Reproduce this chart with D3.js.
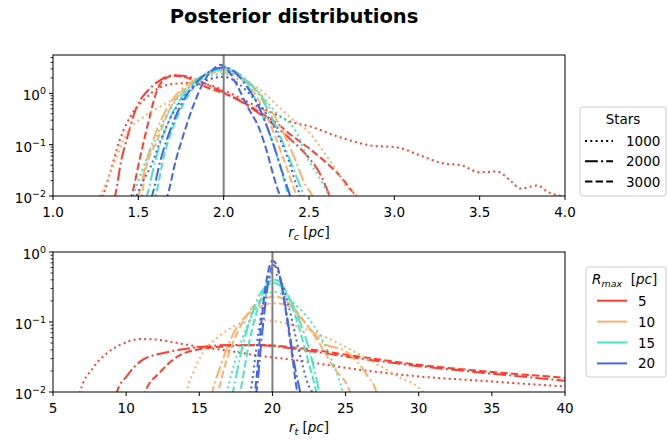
<!DOCTYPE html>
<html lang="en">
<head>
<meta charset="UTF-8">
<title>Posterior distributions</title>
<script src="https://d3js.org/d3.v7.min.js"></script>
<style>
  body { margin: 0; padding: 0; background: #fff; }
  svg { display: block; font-family: "DejaVu Sans", sans-serif; }
  .tick-label { font-size: 13.5px; fill: #000; }
</style>
</head>
<body>
<svg id="chart" width="667" height="442"></svg>
<script>
// legend categories
const rmaxValues = ["5", "10", "15", "20"];
const rmaxColors = ["#ff3d2e", "#ffb066", "#44e6c4", "#4464f0"];
const starCounts = ["1000", "2000", "3000"];
const starDashes = ["2,3.3", "12.8,3.2,2,3.2", "7.4,3.2"];

// tick labels
const rcTicks = [1.0, 1.5, 2.0, 2.5, 3.0, 3.5, 4.0];
const rtTicks = [5, 10, 15, 20, 25, 30, 35, 40];
const logTicks = [0.01, 0.1, 1];

// r_c posteriors, [r_c, density]
const rc_5_1000 = [[1.27,0.008],[1.29,0.01],[1.334,0.028],[1.39,0.12],[1.45,0.34],[1.53,0.73],[1.63,1.32],[1.72,1.55],[1.82,1.6],[1.92,1.45],[2.0,1.15],[2.1,0.8],[2.2,0.55],[2.3,0.4],[2.37,0.30],[2.52,0.22],[2.68,0.14],[2.86,0.097],[3.02,0.088],[3.15,0.062],[3.29,0.043],[3.39,0.040],[3.50,0.029],[3.60,0.030],[3.68,0.020],[3.74,0.014],[3.84,0.016],[3.90,0.012],[3.95,0.0105],[4.0,0.0098]];
const rc_5_2000 = [[1.35,0.008],[1.363,0.01],[1.40,0.05],[1.43,0.12],[1.49,0.54],[1.557,1.15],[1.627,1.8],[1.70,2.25],[1.76,2.2],[1.82,2.0],[1.92,1.4],[2.0,1.05],[2.1,0.7],[2.21,0.4],[2.31,0.22],[2.4,0.12],[2.5,0.055],[2.57,0.025],[2.62,0.01],[2.63,0.008]];
const rc_5_3000 = [[1.45,0.008],[1.46,0.01],[1.51,0.056],[1.557,0.26],[1.61,1.15],[1.645,1.8],[1.70,2.2],[1.78,2.05],[1.88,1.4],[2.0,1.0],[2.1,0.72],[2.2,0.45],[2.3,0.28],[2.4,0.15],[2.5,0.085],[2.6,0.045],[2.68,0.025],[2.74,0.014],[2.77,0.01],[2.78,0.008]];
const rc_10_1000 = [[1.26,0.008],[1.275,0.01],[1.35,0.036],[1.43,0.165],[1.527,0.34],[1.627,0.55],[1.73,0.85],[1.82,1.4],[1.92,1.9],[2.0,2.1],[2.1,1.8],[2.21,1.2],[2.33,0.52],[2.41,0.30],[2.49,0.19],[2.58,0.077],[2.66,0.032],[2.72,0.015],[2.78,0.01],[2.79,0.008]];
const rc_10_2000 = [[1.49,0.008],[1.50,0.01],[1.55,0.05],[1.61,0.2],[1.70,0.75],[1.80,1.6],[1.90,2.3],[1.98,2.6],[2.06,2.4],[2.15,1.6],[2.25,0.65],[2.34,0.2],[2.42,0.05],[2.48,0.016],[2.52,0.01],[2.53,0.008]];
const rc_10_3000 = [[1.51,0.008],[1.52,0.01],[1.54,0.028],[1.61,0.12],[1.69,0.54],[1.82,1.6],[1.92,2.5],[1.99,2.9],[2.06,2.6],[2.13,1.7],[2.22,0.6],[2.30,0.15],[2.37,0.035],[2.42,0.012],[2.43,0.01],[2.44,0.008]];
const rc_15_1000 = [[1.46,0.008],[1.47,0.01],[1.52,0.03],[1.58,0.09],[1.65,0.3],[1.73,0.8],[1.82,1.5],[1.92,2.2],[2.0,2.4],[2.1,2.0],[2.2,1.1],[2.3,0.45],[2.43,0.165],[2.49,0.056],[2.56,0.023],[2.6,0.013],[2.62,0.01],[2.63,0.008]];
const rc_15_2000 = [[1.54,0.008],[1.55,0.01],[1.60,0.05],[1.67,0.25],[1.75,0.8],[1.84,1.8],[1.93,2.7],[2.0,2.9],[2.08,2.5],[2.16,1.5],[2.25,0.55],[2.33,0.15],[2.40,0.04],[2.45,0.015],[2.47,0.01],[2.48,0.008]];
const rc_15_3000 = [[1.59,0.008],[1.60,0.01],[1.65,0.06],[1.72,0.3],[1.80,1.0],[1.88,2.1],[1.95,3.0],[2.0,3.2],[2.06,2.8],[2.12,1.8],[2.2,0.6],[2.28,0.13],[2.34,0.03],[2.38,0.01],[2.39,0.008]];
const rc_20_1000 = [[1.48,0.008],[1.49,0.01],[1.53,0.02],[1.57,0.036],[1.63,0.12],[1.69,0.34],[1.785,1.0],[1.90,1.8],[2.0,2.1],[2.08,1.6],[2.17,0.84],[2.25,0.4],[2.32,0.15],[2.38,0.05],[2.43,0.015],[2.45,0.01],[2.46,0.008]];
const rc_20_2000 = [[1.57,0.008],[1.58,0.01],[1.63,0.05],[1.70,0.25],[1.78,0.9],[1.86,1.9],[1.94,2.9],[2.0,3.2],[2.06,2.7],[2.12,1.6],[2.2,0.6],[2.28,0.13],[2.35,0.025],[2.39,0.01],[2.40,0.008]];
const rc_20_3000 = [[1.66,0.008],[1.67,0.01],[1.72,0.05],[1.76,0.14],[1.82,0.55],[1.88,1.6],[1.94,3.0],[1.98,3.6],[2.04,2.4],[2.08,1.4],[2.14,0.55],[2.21,0.2],[2.25,0.08],[2.30,0.02],[2.33,0.01],[2.34,0.008]];

// r_t posteriors, [r_t, density]
const rt_5_1000 = [[6.8,0.008],[6.85,0.01],[7.73,0.022],[8.69,0.036],[9.58,0.047],[10.95,0.057],[12.1,0.056],[13.5,0.05],[15.05,0.044],[16.9,0.039],[19.1,0.033],[21.9,0.028],[25.1,0.022],[29.6,0.017],[34.2,0.0145],[40,0.012]];
const rt_5_2000 = [[9.3,0.008],[9.37,0.01],[10.06,0.017],[11.15,0.029],[12.8,0.037],[15.05,0.044],[17.3,0.047],[19.6,0.046],[22,0.04],[25.1,0.032],[29.6,0.024],[34.2,0.019],[40,0.0145]];
const rt_5_3000 = [[11.2,0.008],[11.3,0.01],[12.3,0.019],[13.5,0.032],[15.05,0.041],[16.9,0.045],[19.1,0.047],[22,0.042],[25.1,0.034],[29.6,0.025],[34.2,0.02],[40,0.016]];
const rt_10_1000 = [[14.1,0.008],[14.15,0.01],[14.6,0.019],[15.25,0.037],[16.2,0.059],[17.6,0.091],[19.1,0.107],[20.5,0.1],[22.8,0.072],[25.1,0.043],[27,0.026],[28.5,0.017],[30.3,0.01],[30.4,0.008]];
const rt_10_2000 = [[15.8,0.008],[15.9,0.01],[16.5,0.025],[17.2,0.06],[18.0,0.11],[19.0,0.16],[20.0,0.185],[20.8,0.18],[22.0,0.11],[23.5,0.05],[25.1,0.037],[26.5,0.017],[27.1,0.01],[27.2,0.008]];
const rt_10_3000 = [[16.2,0.008],[16.3,0.01],[16.9,0.03],[17.6,0.07],[18.5,0.15],[19.5,0.22],[20.3,0.23],[21.2,0.18],[22.2,0.1],[23.2,0.05],[24.2,0.022],[25.3,0.01],[25.4,0.008]];
const rt_15_1000 = [[16.8,0.008],[16.9,0.01],[17.5,0.03],[18.3,0.09],[19.2,0.2],[20.1,0.27],[21.4,0.19],[22.8,0.09],[23.9,0.034],[24.6,0.014],[24.8,0.01],[24.9,0.008]];
const rt_15_2000 = [[17.2,0.008],[17.3,0.01],[17.9,0.04],[18.6,0.13],[19.4,0.3],[20.1,0.36],[20.9,0.27],[21.8,0.11],[22.6,0.035],[23.2,0.01],[23.3,0.008]];
const rt_15_3000 = [[17.7,0.008],[17.8,0.01],[18.4,0.05],[19.1,0.18],[19.8,0.38],[20.2,0.4],[20.9,0.28],[21.7,0.1],[22.4,0.03],[23.0,0.01],[23.1,0.008]];
const rt_20_1000 = [[18.4,0.008],[18.5,0.01],[19.0,0.06],[19.5,0.25],[20.0,0.5],[20.5,0.42],[21.1,0.17],[21.8,0.04],[22.5,0.012],[22.7,0.01],[22.8,0.008]];
const rt_20_2000 = [[18.8,0.008],[18.9,0.01],[19.3,0.07],[19.7,0.35],[20.05,0.65],[20.5,0.45],[21.0,0.12],[21.5,0.025],[21.9,0.01],[22.0,0.008]];
const rt_20_3000 = [[18.7,0.008],[18.8,0.01],[19.2,0.08],[19.6,0.4],[20.0,0.75],[20.3,0.65],[20.8,0.2],[21.3,0.04],[21.7,0.01],[21.8,0.008]];

const rcCurves = [
  [rc_5_1000, rc_5_2000, rc_5_3000],
  [rc_10_1000, rc_10_2000, rc_10_3000],
  [rc_15_1000, rc_15_2000, rc_15_3000],
  [rc_20_1000, rc_20_2000, rc_20_3000]
];
const rtCurves = [
  [rt_5_1000, rt_5_2000, rt_5_3000],
  [rt_10_1000, rt_10_2000, rt_10_3000],
  [rt_15_1000, rt_15_2000, rt_15_3000],
  [rt_20_1000, rt_20_2000, rt_20_3000]
];

const svg = d3.select("#chart");

svg.append("text")
  .attr("x", 294).attr("y", 23)
  .attr("text-anchor", "middle")
  .attr("font-size", "19.5px").attr("font-weight", "bold")
  .text("Posterior distributions");

function supLabel(sel, exp) {
  sel.append("tspan").text("10");
  sel.append("tspan").attr("dy", -6).attr("font-size", "9.5px").text(exp);
}

function drawPanel(cfg) {
  const x = d3.scaleLinear().domain(cfg.xDomain).range([cfg.left, cfg.right]);
  const y = d3.scaleLog().domain(cfg.yDomain).range([cfg.bottom, cfg.top]);
  const g = svg.append("g");

  g.append("clipPath").attr("id", cfg.id + "-clip")
    .append("rect")
    .attr("x", cfg.left).attr("y", cfg.top)
    .attr("width", cfg.right - cfg.left).attr("height", cfg.bottom - cfg.top);

  const line = d3.line()
    .x(d => x(d[0]))
    .y(d => y(d[1]))
    .curve(d3.curveMonotoneX);

  const plot = g.append("g").attr("clip-path", `url(#${cfg.id}-clip)`);
  cfg.curves.forEach((group, ci) => {
    group.forEach((pts, si) => {
      plot.append("path")
        .datum(pts)
        .attr("d", line)
        .attr("fill", "none")
        .attr("stroke", rmaxColors[ci])
        .attr("stroke-width", 2)
        .attr("stroke-dasharray", starDashes[si]);
    });
  });

  // reference value
  plot.append("line")
    .attr("x1", x(cfg.truth)).attr("x2", x(cfg.truth))
    .attr("y1", cfg.top).attr("y2", cfg.bottom)
    .attr("stroke", "#808080").attr("stroke-width", 2);

  // frame
  g.append("rect")
    .attr("x", cfg.left).attr("y", cfg.top)
    .attr("width", cfg.right - cfg.left).attr("height", cfg.bottom - cfg.top)
    .attr("fill", "none").attr("stroke", "#000").attr("stroke-width", 1);

  // x ticks
  cfg.xTicks.forEach(t => {
    g.append("line")
      .attr("x1", x(t)).attr("x2", x(t))
      .attr("y1", cfg.bottom).attr("y2", cfg.bottom + 4)
      .attr("stroke", "#000");
    g.append("text")
      .attr("class", "tick-label")
      .attr("x", x(t)).attr("y", cfg.bottom + 21)
      .attr("text-anchor", "middle")
      .text(cfg.xFormat(t));
  });

  // y ticks (log)
  const ymax = cfg.yDomain[1];
  logTicks.forEach(t => {
    if (t > ymax * 1.0001) return;
    g.append("line")
      .attr("x1", cfg.left - 4).attr("x2", cfg.left)
      .attr("y1", y(t)).attr("y2", y(t))
      .attr("stroke", "#000");
    const lab = g.append("text")
      .attr("class", "tick-label")
      .attr("x", cfg.left - 7).attr("y", y(t) + 7)
      .attr("text-anchor", "end");
    supLabel(lab, t === 1 ? "0" : (t === 0.1 ? "\u22121" : "\u22122"));
    for (let k = 2; k <= 9; k++) {
      const v = t * k;
      if (v > ymax) break;
      g.append("line")
        .attr("x1", cfg.left - 2.5).attr("x2", cfg.left)
        .attr("y1", y(v)).attr("y2", y(v))
        .attr("stroke", "#000").attr("stroke-width", 0.8);
    }
  });

  // axis label
  const lab = g.append("text")
    .attr("x", (cfg.left + cfg.right) / 2).attr("y", cfg.labelY)
    .attr("text-anchor", "middle")
    .attr("font-size", "13.5px");
  lab.append("tspan").attr("font-style", "italic").text("r");
  lab.append("tspan").attr("font-style", "italic").attr("font-size", "9.5px").attr("dy", 3).text(cfg.sub);
  lab.append("tspan").attr("dy", -3).text("\u00a0[");
  lab.append("tspan").attr("font-style", "italic").text("pc");
  lab.append("tspan").text("]");
}

drawPanel({
  id: "rc", left: 53, right: 565, top: 55, bottom: 196,
  xDomain: [1, 4], yDomain: [0.01, 5.6],
  xTicks: rcTicks, xFormat: d3.format(".1f"),
  curves: rcCurves, truth: 2.0, sub: "c", labelY: 237
});

drawPanel({
  id: "rt", left: 53, right: 565, top: 252, bottom: 392,
  xDomain: [5, 40], yDomain: [0.01, 1],
  xTicks: rtTicks, xFormat: d3.format("d"),
  curves: rtCurves, truth: 20, sub: "t", labelY: 432
});

// legend: Stars
const lg1 = svg.append("g");
lg1.append("rect")
  .attr("x", 580).attr("y", 107).attr("width", 86).attr("height", 89)
  .attr("rx", 3).attr("fill", "#fff").attr("fill-opacity", 0.8)
  .attr("stroke", "#cccccc");
lg1.append("text")
  .attr("x", 623).attr("y", 124).attr("text-anchor", "middle")
  .attr("font-size", "13.5px").text("Stars");
starCounts.forEach((s, i) => {
  const yy = 141 + i * 20.3;
  lg1.append("line")
    .attr("x1", 585).attr("x2", 613).attr("y1", yy).attr("y2", yy)
    .attr("stroke", "#000").attr("stroke-width", 2)
    .attr("stroke-dasharray", starDashes[i]);
  lg1.append("text")
    .attr("x", 626).attr("y", yy + 5).attr("font-size", "13.5px").text(s);
});

// legend: R_max
const lg2 = svg.append("g");
lg2.append("rect")
  .attr("x", 586).attr("y", 267).attr("width", 80).attr("height", 110)
  .attr("rx", 3).attr("fill", "#fff").attr("fill-opacity", 0.8)
  .attr("stroke", "#cccccc");
const t2 = lg2.append("text")
  .attr("x", 592).attr("y", 284).attr("font-size", "13.5px");
t2.append("tspan").attr("font-style", "italic").text("R");
t2.append("tspan").attr("font-style", "italic").attr("font-size", "9.5px").attr("dy", 3).text("max");
t2.append("tspan").attr("dy", -3).text("\u00a0\u00a0[");
t2.append("tspan").attr("font-style", "italic").text("pc");
t2.append("tspan").text("]");
rmaxValues.forEach((r, i) => {
  const yy = 300.7 + i * 20.9;
  lg2.append("line")
    .attr("x1", 597).attr("x2", 627).attr("y1", yy).attr("y2", yy)
    .attr("stroke", rmaxColors[i]).attr("stroke-width", 2);
  lg2.append("text")
    .attr("x", 638).attr("y", yy + 5).attr("font-size", "13.5px").text(r);
});
</script>
</body>
</html>
